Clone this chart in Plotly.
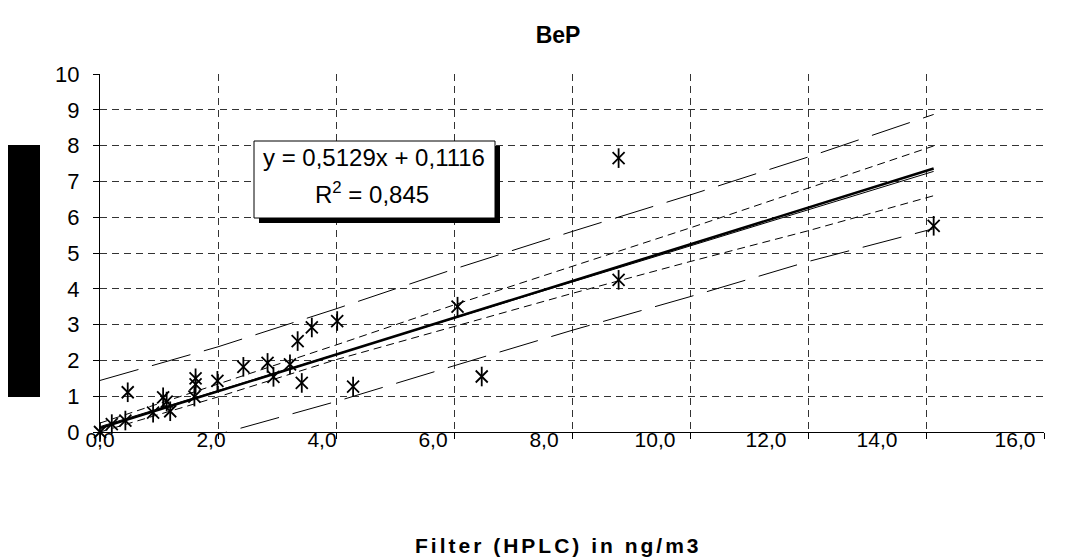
import plotly.graph_objects as go

# ---- data ----
filter_x = [0.0, 0.2, 0.43, 0.47, 0.9, 1.07, 1.13, 1.19, 1.6, 1.62, 1.62, 1.99, 2.43, 2.84, 2.94,
            3.22, 3.35, 3.42, 3.59, 4.02, 4.29, 6.06, 6.47, 8.79, 8.79, 14.13]
sampler_y = [0.0, 0.22, 0.32, 1.11, 0.54, 0.97, 0.85, 0.58, 0.99, 1.33, 1.5, 1.43, 1.82, 1.93, 1.54,
             1.89, 2.54, 1.37, 2.92, 3.10, 1.27, 3.50, 1.55, 7.65, 4.25, 5.76]

trend_x = [0.0, 14.13]
trend_y = [0.11, 7.36]

band_x = [0, 2, 4, 6, 8, 10, 12, 14.13]
fit2_y = [0.15, 1.16, 2.17, 3.18, 4.19, 5.19, 6.20, 7.28]
conf_upper = [0.25, 1.33, 2.43, 3.55, 4.62, 5.70, 6.81, 7.99]
conf_lower = [0.0, 0.98, 2.02, 2.95, 3.87, 4.76, 5.62, 6.60]
pred_upper = [1.44, 2.38, 3.44, 4.55, 5.60, 6.62, 7.68, 8.87]
pred_lower_x = [1.5, 4, 6, 8, 10, 12, 14.13]
pred_lower = [-0.3, 0.85, 1.85, 2.84, 3.78, 4.76, 5.68]

x_tick_pos = [0, 1.881, 3.763, 5.644, 7.525, 9.407, 11.288, 13.169, 15.508]
x_tick_text = ["0,0", "2,0", "4,0", "6,0", "8,0", "10,0", "12,0", "14,0", "16,0"]
y_ticks = list(range(0, 11))

title_text = "BeP"
x_title = "Filter (HPLC) in ng/m3"
eq_line1 = "y = 0,5129x + 0,1116"
eq_line2 = "R<sup>2</sup> = 0,845"

FONT = "Liberation Sans, Arial, sans-serif"

fig = go.Figure()

fig.add_trace(go.Scatter(x=band_x, y=pred_upper, mode="lines",
                         line=dict(color="black", width=1, dash="40px,14px"), hoverinfo="skip"))
fig.add_trace(go.Scatter(x=pred_lower_x, y=pred_lower, mode="lines",
                         line=dict(color="black", width=1, dash="40px,14px"), hoverinfo="skip"))
fig.add_trace(go.Scatter(x=band_x, y=conf_upper, mode="lines",
                         line=dict(color="black", width=1, dash="8px,5px"), hoverinfo="skip"))
fig.add_trace(go.Scatter(x=band_x, y=conf_lower, mode="lines",
                         line=dict(color="black", width=1, dash="8px,5px"), hoverinfo="skip"))
fig.add_trace(go.Scatter(x=band_x, y=fit2_y, mode="lines",
                         line=dict(color="black", width=1), hoverinfo="skip"))
fig.add_trace(go.Scatter(x=trend_x, y=trend_y, mode="lines",
                         line=dict(color="black", width=2.5), hoverinfo="skip"))
# asterisk markers: an X plus a vertical stroke
fig.add_trace(go.Scatter(x=filter_x, y=sampler_y, mode="markers", cliponaxis=False,
                         marker=dict(symbol="x-thin-open", size=12, color="black",
                                     line=dict(color="black", width=1.8))))
fig.add_trace(go.Scatter(x=filter_x, y=sampler_y, mode="markers", cliponaxis=False,
                         marker=dict(symbol="line-ns-open", size=14, color="black",
                                     line=dict(color="black", width=1.8))))

grid_col = "#333333"
fig.update_layout(
    width=1075, height=558,
    margin=dict(l=100, r=31, t=74, b=126),
    paper_bgcolor="white", plot_bgcolor="white",
    showlegend=False,
    font=dict(family=FONT, color="black", size=22),
    title=dict(text="<b>" + title_text + "</b>", x=(558 - 100) / 944, xref="paper",
               xanchor="center", y=1 - 35 / 558, yanchor="middle",
               font=dict(family=FONT, size=23, color="black")),
    xaxis=dict(range=[0, 16], showline=True, linecolor="black", linewidth=1,
               tickvals=x_tick_pos, ticktext=x_tick_text, ticks="", showgrid=False,
               zeroline=False, tickfont=dict(size=21), ticklabelstandoff=-11,
               minor=dict(tick0=0, dtick=2, showgrid=True, gridcolor=grid_col,
                          griddash="7px,5px", gridwidth=1, ticks="outside",
                          ticklen=6, tickcolor="black")),
    yaxis=dict(range=[0, 10], tickvals=y_ticks, showline=True, linecolor="black",
               linewidth=1, ticks="outside", ticklen=6, tickcolor="black",
               showgrid=True, gridcolor=grid_col, griddash="7px,5px", gridwidth=1,
               zeroline=False, tickfont=dict(size=22), ticklabelstandoff=9),
)

# black block left of the y axis (as in reference)
fig.add_shape(type="rect", xref="paper", yref="paper",
              x0=(8 - 100) / 944, x1=(40 - 100) / 944,
              y0=(432 - 397) / 358, y1=(432 - 145) / 358,
              fillcolor="black", line=dict(width=0), layer="above")

# equation box with shadow
fig.add_shape(type="rect", xref="paper", yref="paper",
              x0=(259 - 100) / 944, x1=(500 - 100) / 944,
              y0=(432 - 223) / 358, y1=(432 - 146) / 358,
              fillcolor="black", line=dict(width=0), layer="above")
fig.add_shape(type="rect", xref="paper", yref="paper",
              x0=(254 - 100) / 944, x1=(495 - 100) / 944,
              y0=(432 - 218) / 358, y1=(432 - 141) / 358,
              fillcolor="white", line=dict(color="black", width=1), layer="above")
fig.add_annotation(text=eq_line1, xref="paper", yref="paper",
                   x=(374 - 100) / 944, y=(432 - 157) / 358, showarrow=False,
                   xanchor="center", yanchor="middle", font=dict(family=FONT, size=24))
fig.add_annotation(text=eq_line2, xref="paper", yref="paper",
                   x=(372 - 100) / 944, y=(432 - 193) / 358, showarrow=False,
                   xanchor="center", yanchor="middle", font=dict(family=FONT, size=24))

# x axis title (letter-spaced as in the reference)
fig.add_annotation(text='<span style="letter-spacing:3px"><b>' + x_title + "</b></span>",
                   xref="paper", yref="paper",
                   x=(558 - 100) / 944, y=(432 - 545) / 358, showarrow=False,
                   xanchor="center", yanchor="middle",
                   font=dict(family=FONT, size=21))

fig.write_html("out.html", config={"displayModeBar": False},
               post_script="document.body.style.margin='0';")
